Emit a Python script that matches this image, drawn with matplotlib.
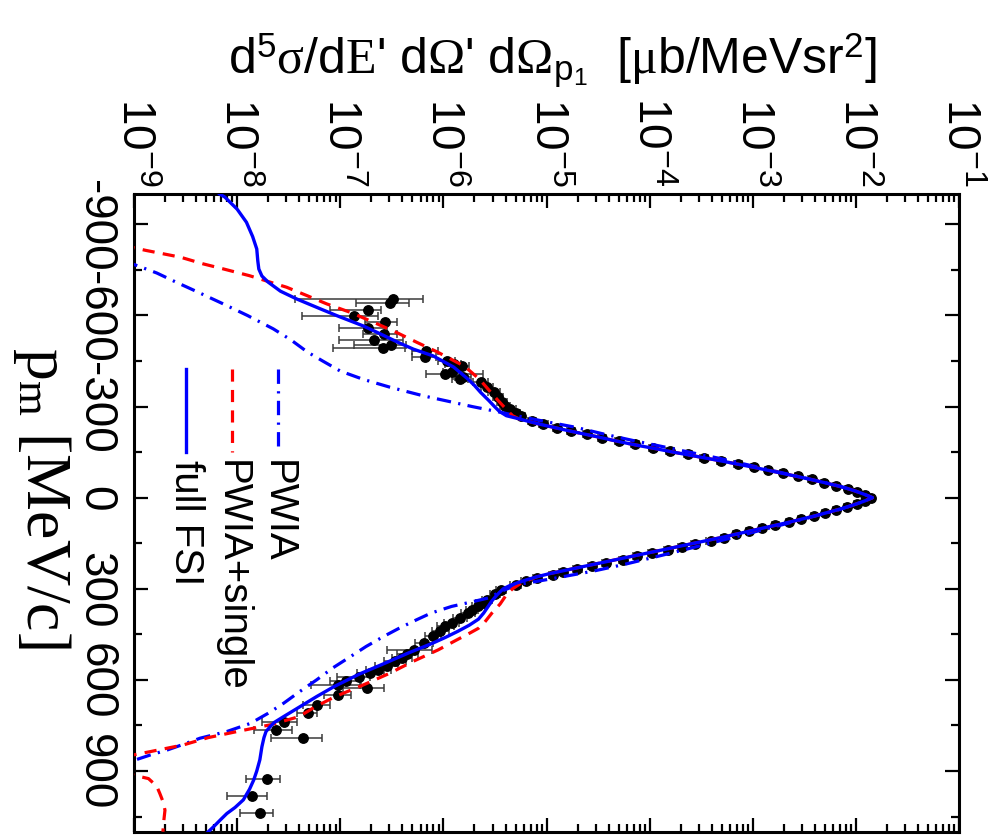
import numpy as np
import matplotlib
matplotlib.use("Agg")
import matplotlib.pyplot as plt
from matplotlib.ticker import FixedLocator, FixedFormatter, LogLocator, NullFormatter

plt.rcParams["font.family"] = ["Liberation Sans", "DejaVu Sans"]
plt.rcParams["mathtext.fontset"] = "custom"
plt.rcParams["mathtext.rm"] = "Liberation Serif"
plt.rcParams["mathtext.it"] = "Liberation Serif:italic"
plt.rcParams["mathtext.bf"] = "Liberation Serif:bold"

# full FSI curve: p_m [MeV/c] and log10 of the cross section
fsi_p = [-1000, -990, -950, -907, -860, -819, -780, -753, -730, -710, -680, -654,
         -620, -599, -566, -544, -510, -489, -467, -430, -390, -370, -347, -320,
         -302, -285, -270, -260, -250, -240, -230, -220, -210, -200, -190, -180,
         -170, -160, -150, -140, -130, -120, -110, -100, -90, -80, -70, -60, -50,
         -40, -30, -20, -10, 0, 10, 20, 30, 40, 50, 60, 70, 80, 90, 100, 110, 120,
         130, 140, 150, 160, 170, 180, 190, 200, 210, 220, 230, 240, 250, 260,
         270, 280, 290, 300, 320, 340, 360, 380, 400, 420, 440, 460, 480, 510,
         544, 580, 622, 655, 688, 721, 740, 754, 770, 790, 820, 863, 900, 930,
         960, 995, 1020, 1040, 1060, 1084, 1100]
fsi_log = [-8.17, -8.12, -8.00, -7.91, -7.85, -7.81, -7.80, -7.79, -7.76, -7.70,
           -7.58, -7.42, -7.18, -7.03, -6.78, -6.64, -6.43, -6.29, -6.10, -5.90,
           -5.76, -5.70, -5.64, -5.56, -5.51, -5.46, -5.39, -5.27, -5.16, -5.04,
           -4.91, -4.78, -4.64, -4.50, -4.37, -4.23, -4.08, -3.92, -3.77, -3.61,
           -3.45, -3.29, -3.14, -2.99, -2.85, -2.71, -2.57, -2.44, -2.31, -2.19,
           -2.08, -1.99, -1.91, -1.84, -1.91, -1.99, -2.08, -2.18, -2.29, -2.40,
           -2.52, -2.64, -2.77, -2.90, -3.03, -3.16, -3.29, -3.43, -3.57, -3.71,
           -3.85, -3.99, -4.13, -4.27, -4.41, -4.55, -4.69, -4.83, -4.97, -5.09,
           -5.19, -5.28, -5.36, -5.42, -5.48, -5.53, -5.57, -5.61, -5.66, -5.75,
           -5.86, -5.98, -6.11, -6.33, -6.56, -6.81, -7.06, -7.23, -7.39, -7.55,
           -7.64, -7.68, -7.72, -7.74, -7.76, -7.78, -7.81, -7.84, -7.88, -7.94,
           -8.02, -8.10, -8.16, -8.23, -8.28]

# PWIA + single rescattering
single_p = [-850, -830, -814, -792, -770, -753, -731, -712, -693, -665, -638, -610,
            -578, -545, -512, -480, -446, -434, -390, -347, -320, -291, -270, -260,
            -250, -240, -230, -220, -210, -200, -190, -180, -170, -160, -150, -140,
            -130, -120, -110, -100, -90, -80, -70, -60, -50, -40, -30, -20, -10, 0,
            10, 20, 30, 40, 50, 60, 70, 80, 90, 100, 110, 120, 130, 140, 150, 160,
            170, 180, 190, 200, 210, 220, 230, 240, 250, 260, 280, 300, 320, 350,
            380, 410, 430, 445, 470, 501, 540, 578, 620, 655, 690, 721, 748, 770,
            790, 814, 836, 850, 870, 895, 910, 925, 950, 974, 1000, 1029, 1060, 1100]
single_log = [-9.30, -9.10, -8.88, -8.55, -8.33, -8.13, -7.88, -7.70, -7.52, -7.32,
              -7.13, -6.90, -6.68, -6.46, -6.26, -6.06, -5.87, -5.80, -5.65, -5.54,
              -5.47, -5.39, -5.33, -5.27, -5.16, -5.04, -4.91, -4.78, -4.64, -4.50,
              -4.37, -4.23, -4.08, -3.92, -3.77, -3.61, -3.45, -3.29, -3.14, -2.99,
              -2.85, -2.71, -2.57, -2.44, -2.31, -2.19, -2.08, -1.99, -1.91, -1.84,
              -1.91, -1.99, -2.08, -2.18, -2.29, -2.40, -2.52, -2.64, -2.77, -2.90,
              -3.03, -3.16, -3.29, -3.43, -3.57, -3.71, -3.85, -3.99, -4.13, -4.27,
              -4.41, -4.55, -4.69, -4.83, -4.97, -5.09, -5.24, -5.33, -5.39, -5.45,
              -5.53, -5.60, -5.66, -5.74, -5.88, -6.05, -6.30, -6.52, -6.80, -7.05,
              -7.25, -7.40, -7.68, -8.00, -8.28, -8.52, -8.84, -9.05, -9.30, -9.30,
              -9.05, -8.86, -8.78, -8.75, -8.72, -8.70, -8.71, -8.72]

# PWIA
pwia_p = [-780, -763, -740, -711, -680, -639, -600, -556, -520, -480, -450, -417,
          -390, -364, -335, -318, -300, -285, -265, -250, -232, -210, -186, -170,
          -153, -130, -103, -80, -70, -60, -50, -40, -30, -20, -10, 0, 10, 20, 30,
          40, 50, 60, 70, 80, 100, 130, 160, 193, 220, 242, 270, 286, 310, 330,
          345, 358, 380, 402, 430, 457, 490, 523, 560, 600, 640, 677, 710, 743,
          770, 792, 812, 831, 847, 865, 880]
pwia_log = [-9.10, -8.96, -8.78, -8.60, -8.40, -8.14, -7.90, -7.65, -7.48, -7.32,
            -7.17, -7.00, -6.78, -6.52, -6.19, -5.96, -5.72, -5.50, -5.22, -5.00,
            -4.72, -4.45, -4.13, -3.90, -3.66, -3.33, -2.98, -2.69, -2.56, -2.43,
            -2.30, -2.18, -2.08, -1.99, -1.91, -1.84, -1.91, -1.99, -2.08, -2.17,
            -2.28, -2.39, -2.50, -2.61, -2.84, -3.18, -3.53, -3.92, -4.25, -4.55,
            -5.00, -5.28, -5.45, -5.56, -5.75, -5.92, -6.12, -6.26, -6.43, -6.58,
            -6.75, -6.90, -7.07, -7.23, -7.40, -7.55, -7.70, -7.87, -8.10, -8.36,
            -8.52, -8.68, -8.84, -9.00, -9.15]

# measured points: p_m, log10(value), log10 of lower and upper end of the error bar
dat_p = [-655, -640, -619, -599, -580, -558, -539, -519, -504, -493, -484, -464,
         -451, -440, -434, -414, -407, -396, -390, -380, -363, -347, -330, -316,
         -302, -291, -280, -269, -253, -242, -231, -220, -209, -198, -187, -176,
         -165, -154, -143, -132, -121, -110, -100, -90, -80, -70, -60, -50, -40,
         -30, -20, -10, 0, 10, 20, 30, 40, 50, 60, 70, 80, 90, 100, 110, 121, 132,
         143, 154, 162, 171, 182, 193, 204, 215, 226, 236, 246, 253, 264, 275,
         286, 303, 318, 336, 347, 358, 369, 380, 396, 413, 424, 440, 457, 478,
         501, 515, 528, 539, 553, 567, 578, 589, 605, 616, 627, 649, 682, 710,
         739, 765, 792, 927, 982, 1038]
dat_log = [-6.49, -6.52, -6.73, -6.87, -6.57, -6.73, -6.58, -6.67, -6.51, -6.59,
           -6.17, -6.18, -5.97, -5.90, -5.82, -5.92, -5.98, -5.81, -5.84, -5.64,
           -5.58, -5.51, -5.47, -5.43, -5.40, -5.35, -5.30, -5.25, -5.14, -5.03,
           -4.90, -4.76, -4.61, -4.46, -4.30, -4.14, -3.97, -3.80, -3.63, -3.47,
           -3.31, -3.14, -2.99, -2.85, -2.71, -2.56, -2.43, -2.31, -2.19, -2.08,
           -1.99, -1.91, -1.85, -1.91, -1.99, -2.09, -2.19, -2.30, -2.41, -2.53,
           -2.65, -2.78, -2.91, -3.04, -3.16, -3.28, -3.41, -3.56, -3.69, -3.82,
           -3.98, -4.12, -4.26, -4.42, -4.56, -4.70, -4.84, -4.94, -5.09, -5.20,
           -5.30, -5.44, -5.50, -5.58, -5.62, -5.66, -5.72, -5.76, -5.84, -5.92,
           -5.98, -6.03, -6.10, -6.19, -6.29, -6.35, -6.40, -6.47, -6.55, -6.63,
           -6.71, -6.82, -6.94, -7.02, -6.74, -7.02, -7.23, -7.31, -7.55, -7.62,
           -7.36, -7.71, -7.86, -7.78]
dat_lo = [-7.44, -6.85, -7.10, -7.37, -6.76, -7.01, -6.78, -7.01, -6.87, -7.07,
          -6.30, -6.30, -6.05, -5.98, -5.90, -6.00, -6.17, -5.89, -5.92, -5.71,
          -5.64, -5.57, -5.52, -5.48, -5.45, -5.40, -5.34, -5.29, -5.18, -5.07,
          -4.94, -4.80, -4.65, -4.50, -4.34, -4.18, -4.01, -3.84, -3.67, -3.51,
          -3.35, -3.18, -3.02, -2.88, -2.74, -2.59, -2.46, -2.34, -2.22, -2.11,
          -2.02, -1.94, -1.88, -1.94, -2.02, -2.12, -2.22, -2.33, -2.44, -2.56,
          -2.68, -2.81, -2.94, -3.07, -3.19, -3.31, -3.45, -3.60, -3.73, -3.86,
          -4.02, -4.16, -4.30, -4.46, -4.60, -4.74, -4.88, -4.98, -5.13, -5.25,
          -5.35, -5.49, -5.55, -5.63, -5.68, -5.72, -5.78, -5.83, -5.91, -5.99,
          -6.06, -6.11, -6.18, -6.28, -6.55, -6.45, -6.50, -6.58, -6.66, -6.75,
          -6.84, -7.03, -7.10, -7.28, -6.97, -7.16, -7.36, -7.42, -7.76, -7.84,
          -7.67, -7.91, -8.10, -7.97]
dat_hi = [-6.20, -6.33, -6.61, -6.63, -6.45, -6.55, -6.45, -6.39, -6.36, -6.37,
          -6.05, -6.07, -5.89, -5.83, -5.75, -5.84, -5.62, -5.73, -5.76, -5.57,
          -5.52, -5.45, -5.42, -5.38, -5.35, -5.30, -5.26, -5.21, -5.10, -4.99,
          -4.86, -4.72, -4.57, -4.42, -4.26, -4.10, -3.93, -3.76, -3.59, -3.43,
          -3.27, -3.10, -2.96, -2.82, -2.68, -2.53, -2.40, -2.28, -2.16, -2.05,
          -1.96, -1.88, -1.82, -1.88, -1.96, -2.06, -2.16, -2.27, -2.38, -2.50,
          -2.62, -2.75, -2.88, -3.01, -3.13, -3.25, -3.37, -3.52, -3.65, -3.78,
          -3.94, -4.08, -4.22, -4.38, -4.52, -4.66, -4.80, -4.90, -5.05, -5.15,
          -5.25, -5.39, -5.45, -5.53, -5.56, -5.60, -5.66, -5.69, -5.77, -5.85,
          -5.90, -5.95, -6.02, -6.10, -6.11, -6.25, -6.30, -6.36, -6.44, -6.51,
          -6.58, -6.71, -6.80, -6.81, -6.58, -6.90, -7.10, -7.23, -7.42, -7.47,
          -7.18, -7.58, -7.71, -7.65]

decade_ticks = [1e-9, 1e-8, 1e-7, 1e-6, 1e-5, 1e-4, 1e-3, 1e-2, 1e-1]
decade_labels = ["$\\mathregular{10^{-9}}$", "$\\mathregular{10^{-8}}$",
                 "$\\mathregular{10^{-7}}$", "$\\mathregular{10^{-6}}$",
                 "$\\mathregular{10^{-5}}$", "$\\mathregular{10^{-4}}$",
                 "$\\mathregular{10^{-3}}$", "$\\mathregular{10^{-2}}$",
                 "$\\mathregular{10^{-1}}$"]
pm_ticks = [-900, -600, -300, 0, 300, 600, 900]
pm_labels = ["-900", "-600", "-300", "0", "300", "600", "900"]

blue = "#0000ff"
red = "#ff0000"

fig = plt.figure(figsize=(10.01, 8.37), dpi=100)
ax = fig.add_axes([0.1339, 0.0051, 0.8242, 0.7619])

dv = np.power(10.0, dat_log)
lo = np.power(10.0, dat_lo)
hi = np.power(10.0, dat_hi)
ax.errorbar(dv, dat_p, xerr=[dv - lo, hi - dv], fmt="o", color="black", ms=6.8,
            ecolor="#3a3a3a", elinewidth=1.1, capsize=3, capthick=1.1, zorder=2)

ax.plot(np.power(10.0, pwia_log), pwia_p, color=blue, lw=2.3,
        dashes=(4.5, 2.3, 0.7, 2.3), zorder=3)
ax.plot(np.power(10.0, single_log), single_p, color=red, lw=2.3,
        dashes=(3.8, 2.6), zorder=4)
ax.plot(np.power(10.0, fsi_log), fsi_p, color=blue, lw=2.4, zorder=5)

ax.set_xscale("log")
ax.set_xlim(1e-9, 1e-1)
ax.set_ylim(1100, -1000)

ax.xaxis.set_major_locator(FixedLocator(decade_ticks))
ax.xaxis.set_major_formatter(FixedFormatter(decade_labels))
ax.xaxis.set_minor_locator(LogLocator(base=10, subs=np.arange(2, 10), numticks=20))
ax.xaxis.set_minor_formatter(NullFormatter())
ax.yaxis.set_major_locator(FixedLocator(pm_ticks))
ax.yaxis.set_major_formatter(FixedFormatter(pm_labels))
ax.yaxis.set_minor_locator(FixedLocator([-750, -450, -150, 150, 450, 750, 1050]))

ax.tick_params(which="both", direction="in", top=True, bottom=True, left=True,
               right=True, width=1.6)
ax.tick_params(which="major", length=10)
ax.tick_params(which="minor", length=5.5)
ax.tick_params(axis="x", labeltop=True, labelbottom=False, labelsize=33,
               labelrotation=-90, pad=6)
ax.tick_params(axis="y", labelsize=33, labelrotation=-90, pad=12)
for t in ax.get_yticklabels():
    t.set_va("center")
for s in ax.spines.values():
    s.set_linewidth(2.2)

# legend drawn by hand, rotated like the rest of the figure
leg = [(0.063, {"color": blue, "lw": 2.4}, "full FSI"),
       (0.119, {"color": red, "lw": 2.3, "dashes": (3.8, 2.6)}, "PWIA+single"),
       (0.1745, {"color": blue, "lw": 2.3, "dashes": (4.5, 2.3, 0.7, 2.3)}, "PWIA")]
for xa, style, name in leg:
    ax.plot([xa, xa], [0.725, 0.595], transform=ax.transAxes, **style)
    ax.text(xa, 0.585, name, transform=ax.transAxes, rotation=-90, ha="center",
            va="top", fontsize=29)

fig.text(0.552, 0.912,
         "d$^\\mathregular{5}\\mathrm{\\sigma}$/d$\\mathrm{E}$' d$\\mathrm{\\Omega}$' "
         "d$\\mathrm{\\Omega}_\\mathregular{p_1}$  [$\\mathrm{\\mu}$b/MeVsr$^\\mathregular{2}$]",
         ha="center", va="baseline", fontsize=36)
fig.text(0.042, 0.405, "p$_\\mathregular{m}$ [MeV/c]", family="Liberation Serif",
         rotation=-90, ha="center", va="center", fontsize=46)

fig.savefig("out.png", dpi=100)
